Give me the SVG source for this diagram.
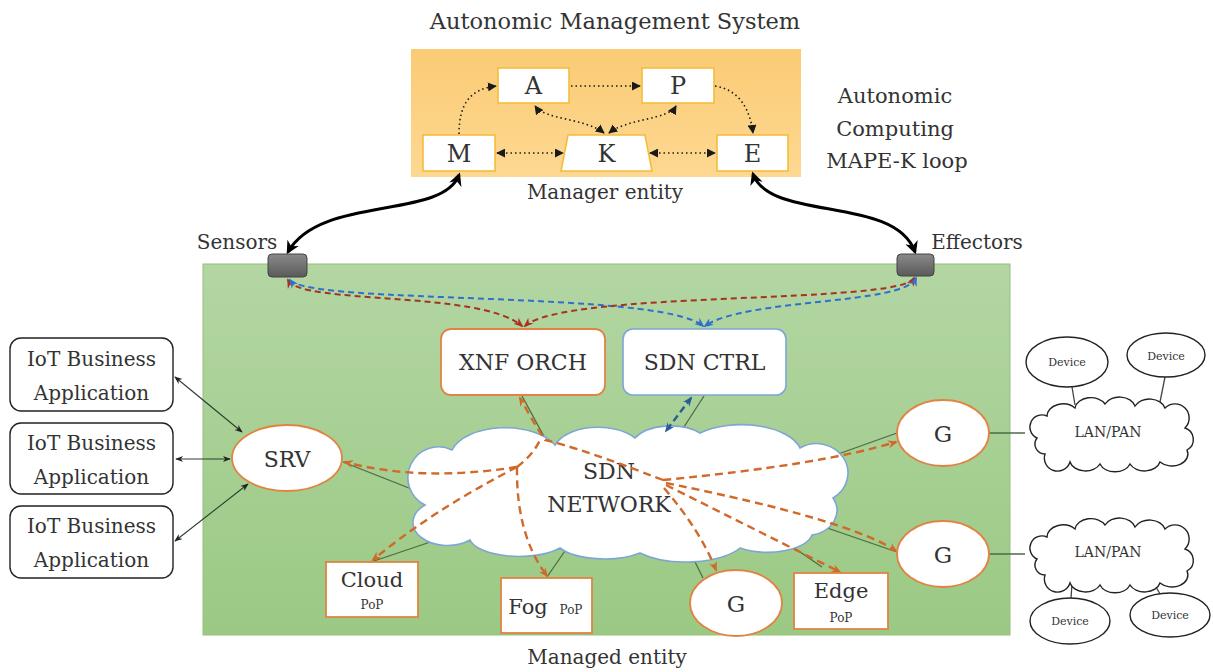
<svg xmlns="http://www.w3.org/2000/svg" width="1213" height="672" viewBox="0 0 1213 672" font-family="'DejaVu Serif', 'Liberation Serif', serif">
<defs>
<linearGradient id="gOr" x1="0" y1="0" x2="0" y2="1"><stop offset="0" stop-color="#fbcb74"/><stop offset="1" stop-color="#fdd892"/></linearGradient>
<linearGradient id="gGr" x1="0" y1="0" x2="0" y2="1"><stop offset="0" stop-color="#b3d6a3"/><stop offset="1" stop-color="#9bc984"/></linearGradient>
<linearGradient id="gSen" x1="0" y1="0" x2="0" y2="1"><stop offset="0" stop-color="#8a8a8a"/><stop offset="1" stop-color="#5a5a5a"/></linearGradient>
<marker id="mDot" viewBox="0 0 10 10" refX="9" refY="5" markerWidth="9" markerHeight="9" markerUnits="userSpaceOnUse" orient="auto-start-reverse"><path d="M0,0 L10,5 L0,10 Z" fill="#1a1a1a"/></marker>
<marker id="mBig" viewBox="0 0 10 10" refX="8" refY="5" markerWidth="13" markerHeight="13" markerUnits="userSpaceOnUse" orient="auto-start-reverse"><path d="M0,0 L10,5 L0,10 L3,5 Z" fill="#000"/></marker>
<marker id="mThin" viewBox="0 0 10 10" refX="9" refY="5" markerWidth="8" markerHeight="8" markerUnits="userSpaceOnUse" orient="auto-start-reverse"><path d="M0,1 L10,5 L0,9 L3,5 Z" fill="#222"/></marker>
<marker id="mOr" viewBox="0 0 10 10" refX="8" refY="5" markerWidth="10" markerHeight="10" markerUnits="userSpaceOnUse" orient="auto-start-reverse"><path d="M0,1 L10,5 L0,9 L3,5 Z" fill="#d0692a"/></marker>
<marker id="mRed" viewBox="0 0 10 10" refX="8" refY="5" markerWidth="10" markerHeight="10" markerUnits="userSpaceOnUse" orient="auto-start-reverse"><path d="M0,1 L10,5 L0,9 L3,5 Z" fill="#a8321f"/></marker>
<marker id="mBlue" viewBox="0 0 10 10" refX="8" refY="5" markerWidth="10" markerHeight="10" markerUnits="userSpaceOnUse" orient="auto-start-reverse"><path d="M0,1 L10,5 L0,9 L3,5 Z" fill="#2f6fcf"/></marker>
<marker id="mDBlue" viewBox="0 0 10 10" refX="8" refY="5" markerWidth="10" markerHeight="10" markerUnits="userSpaceOnUse" orient="auto-start-reverse"><path d="M0,1 L10,5 L0,9 L3,5 Z" fill="#2a5b98"/></marker>
<path id="lanCloud" d="M12 40 A12 12 0 0 1 22 18 A16 12 0 0 1 50 10 A16 12 0 0 1 80 6 A16 12 0 0 1 110 8 A16 12 0 0 1 140 10 A14 14 0 0 1 160 30 A12 12 0 0 1 162 52 A16 12 0 0 1 135 64 A16 12 0 0 1 105 66 A16 12 0 0 1 75 66 A16 12 0 0 1 45 64 A12 12 0 0 1 20 56 A10 10 0 0 1 12 40 Z"/>
</defs>
<style>
text{font-family:'DejaVu Serif','Liberation Serif',serif;fill:#333}
.mk{fill:#fff;stroke:#f3bd3c;stroke-width:1.6}
.lt{font-size:24px;text-anchor:middle}
.dot{fill:none;stroke:#1a1a1a;stroke-width:1.6;stroke-dasharray:1.5 3}
.big{fill:none;stroke:#000;stroke-width:3}
.or{fill:#fff;stroke:#e08443;stroke-width:1.8}
.bl{fill:#fff;stroke:#7ea6d3;stroke-width:1.6}
.blk{fill:#fff;stroke:#222;stroke-width:1.4}
.sol{fill:none;stroke:#4d6b44;stroke-width:1.3}
.od{fill:none;stroke:#d0692a;stroke-width:2.4;stroke-dasharray:8 5}
.rd{fill:none;stroke:#a8321f;stroke-width:2;stroke-dasharray:6 4}
.bd{fill:none;stroke:#2f6fcf;stroke-width:2;stroke-dasharray:6 4}
.thin{fill:none;stroke:#2c3e2c;stroke-width:1.1}
.dev{font-size:11px;text-anchor:middle}
</style>

<text x="615" y="29" font-size="22.5" text-anchor="middle">Autonomic Management System</text>
<text x="895" y="103" font-size="21" text-anchor="middle">Autonomic</text>
<text x="895" y="136" font-size="21" text-anchor="middle">Computing</text>
<text x="897" y="168" font-size="21" text-anchor="middle">MAPE-K loop</text>
<text x="605" y="199" font-size="20" text-anchor="middle">Manager entity</text>
<text x="237" y="249" font-size="20" text-anchor="middle">Sensors</text>
<text x="977" y="249" font-size="20" text-anchor="middle">Effectors</text>
<text x="607" y="664" font-size="20" text-anchor="middle">Managed entity</text>

<rect id="manager" x="411" y="49" width="390" height="128" fill="url(#gOr)"/>
<g id="node-A"><rect class="mk" x="498" y="68" width="71" height="35"/><text class="lt" x="533.5" y="94">A</text></g>
<g id="node-P"><rect class="mk" x="642" y="68" width="72" height="35"/><text class="lt" x="678" y="94">P</text></g>
<g id="node-M"><rect class="mk" x="423" y="135" width="72" height="36"/><text class="lt" x="459" y="162">M</text></g>
<g id="node-K"><path class="mk" d="M568 135 L645 135 L652 171 L561 171 Z"/><text class="lt" x="606.5" y="162">K</text></g>
<g id="node-E"><rect class="mk" x="717" y="135" width="71" height="36"/><text class="lt" x="752.5" y="162">E</text></g>

<rect id="managed" x="203" y="264" width="807" height="371" fill="url(#gGr)" stroke="#93c07f" stroke-width="1"/>

<g id="connectors">
  <path class="dot" d="M459 134 C459 104 470 89 496 86" marker-end="url(#mDot)"/>
  <path class="dot" d="M571 86 L640 86" marker-end="url(#mDot)"/>
  <path class="dot" d="M715 86 C740 90 750 110 753 133" marker-end="url(#mDot)"/>
  <path class="dot" d="M604 133 C585 118 545 120 535 106" marker-start="url(#mDot)" marker-end="url(#mDot)"/>
  <path class="dot" d="M609 133 C628 118 668 120 676 106" marker-start="url(#mDot)" marker-end="url(#mDot)"/>
  <path class="dot" d="M497 153 L563 153" marker-start="url(#mDot)" marker-end="url(#mDot)"/>
  <path class="dot" d="M650 153 L715 153" marker-start="url(#mDot)" marker-end="url(#mDot)"/>
  <path class="big" d="M459 175 C442 220 320 195 288 252" marker-start="url(#mBig)" marker-end="url(#mBig)"/>
  <path class="big" d="M753 174 C770 222 895 195 915 252" marker-start="url(#mBig)" marker-end="url(#mBig)"/>
  <path class="rd" d="M288 280 C300 305 480 290 522 326" marker-start="url(#mRed)" marker-end="url(#mRed)"/>
  <path class="bd" d="M290 280 C310 305 660 290 703 326" marker-start="url(#mBlue)" marker-end="url(#mBlue)"/>
  <path class="rd" d="M914 278 C900 305 565 290 525 326" marker-start="url(#mRed)" marker-end="url(#mRed)"/>
  <path class="bd" d="M916 278 C905 305 745 298 705 326" marker-start="url(#mBlue)" marker-end="url(#mBlue)"/>
  <path class="sol" d="M522 396 L547 442"/>
  <path class="sol" d="M704 396 L682 430"/>
  <path class="sol" d="M343 462 L414 490"/>
  <path class="sol" d="M371 562 L466 530"/>
  <path class="sol" d="M547 577 L569 545"/>
  <path class="sol" d="M703 578 L685 542"/>
  <path class="sol" d="M768 530 L822 567"/>
  <path class="sol" d="M804 520 L897 552"/>
  <path class="sol" d="M827 458 L897 433"/>
  <path class="sol" d="M988 433 L1025 433"/>
  <path class="sol" d="M988 554 L1025 554"/>
  <path class="sol" style="stroke:#444" d="M1072 387 L1075 405"/>
  <path class="sol" style="stroke:#444" d="M1165 377 L1160 402"/>
  <path class="sol" style="stroke:#444" d="M1072 584 L1071 598"/>
  <path class="sol" style="stroke:#444" d="M1152 580 L1160 594"/>
  <path class="thin" d="M175 377 L242 432" marker-start="url(#mThin)" marker-end="url(#mThin)"/>
  <path class="thin" d="M176 459 L230 459" marker-start="url(#mThin)" marker-end="url(#mThin)"/>
  <path class="thin" d="M175 541 L248 484" marker-start="url(#mThin)" marker-end="url(#mThin)"/>
</g>

<g id="node-sdn">
  <path fill="#fff" stroke="#7ea6d3" stroke-width="1.6" d="M425 505 A30 30 0 0 1 452 450 A55 30 0 0 1 555 445 A45 25 0 0 1 635 438 A40 22 0 0 1 700 433 A60 30 0 0 1 800 448 A30 28 0 0 1 833 498 A30 25 0 0 1 812 535 A45 20 0 0 1 740 548 A60 25 0 0 1 640 553 A50 20 0 0 1 560 548 A50 20 0 0 1 470 540 A30 20 0 0 1 425 505 Z"/>
  <text x="609" y="479" font-size="22" text-anchor="middle">SDN</text>
  <text x="609" y="512" font-size="22" text-anchor="middle">NETWORK</text>
</g>

<g id="connectors-dashed">
  <path class="od" d="M517 467 Q420 482 345 462" marker-end="url(#mOr)"/>
  <path class="od" d="M663 480 Q580 448 545 440 Q535 425 520 398" marker-end="url(#mOr)"/>
  <path class="od" d="M517 467 Q533 455 540 440"/>
  <path class="od" d="M517 467 Q430 512 373 560" marker-end="url(#mOr)"/>
  <path class="od" d="M517 467 Q516 535 547 576" marker-end="url(#mOr)"/>
  <path class="od" d="M663 480 Q820 465 896 442" marker-end="url(#mOr)"/>
  <path class="od" d="M666 483 Q850 520 896 551" marker-end="url(#mOr)"/>
  <path class="od" d="M666 485 L840 572" marker-end="url(#mOr)"/>
  <path class="od" d="M664 488 Q700 530 716 570" marker-end="url(#mOr)"/>
  <path fill="none" stroke="#2a5b98" stroke-width="2.4" stroke-dasharray="7 4" d="M691 398 L666 431" marker-start="url(#mDBlue)" marker-end="url(#mDBlue)"/>
</g>

<g id="node-sensor"><rect x="268" y="254" width="39" height="23" rx="4" fill="url(#gSen)" stroke="#444" stroke-width="1"/></g>
<g id="node-effector"><rect x="897" y="254" width="37" height="22" rx="4" fill="url(#gSen)" stroke="#444" stroke-width="1"/></g>

<g id="node-xnf"><rect class="or" x="441" y="329" width="164" height="66" rx="10"/><text x="523" y="370" font-size="22" text-anchor="middle">XNF ORCH</text></g>
<g id="node-sdnctrl"><rect class="bl" x="623" y="329" width="163" height="66" rx="10"/><text x="704.5" y="370" font-size="22" text-anchor="middle">SDN CTRL</text></g>
<g id="node-srv"><ellipse class="or" cx="287" cy="458" rx="55" ry="33"/><text x="287" y="467" font-size="22" text-anchor="middle">SRV</text></g>
<g id="node-g1"><ellipse class="or" cx="943" cy="433" rx="46" ry="33"/><text x="943" y="442" font-size="23" text-anchor="middle">G</text></g>
<g id="node-g2"><ellipse class="or" cx="943" cy="554" rx="46" ry="33"/><text x="943" y="563" font-size="23" text-anchor="middle">G</text></g>
<g id="node-g3"><ellipse class="or" cx="736" cy="603" rx="46" ry="33"/><text x="736" y="612" font-size="23" text-anchor="middle">G</text></g>
<g id="node-cloudpop"><rect class="or" x="326" y="562" width="92" height="55"/><text x="372" y="587" font-size="21" text-anchor="middle">Cloud</text><text x="372" y="609" font-size="12" text-anchor="middle">PoP</text></g>
<g id="node-fogpop"><rect class="or" x="501" y="578" width="91" height="55"/><text x="528" y="614" font-size="21" text-anchor="middle">Fog</text><text x="571" y="614" font-size="12" text-anchor="middle">PoP</text></g>
<g id="node-edgepop"><rect class="or" x="794" y="573" width="94" height="56"/><text x="841" y="598" font-size="21" text-anchor="middle">Edge</text><text x="841" y="622" font-size="12" text-anchor="middle">PoP</text></g>

<g id="node-iot1"><rect class="blk" x="10" y="338" width="163" height="73" rx="11"/><text x="91.5" y="366" font-size="20" text-anchor="middle">IoT Business</text><text x="91.5" y="400" font-size="20" text-anchor="middle">Application</text></g>
<g id="node-iot2"><rect class="blk" x="10" y="423" width="163" height="71" rx="11"/><text x="91.5" y="450" font-size="20" text-anchor="middle">IoT Business</text><text x="91.5" y="484" font-size="20" text-anchor="middle">Application</text></g>
<g id="node-iot3"><rect class="blk" x="10" y="506" width="163" height="72" rx="11"/><text x="91.5" y="533" font-size="20" text-anchor="middle">IoT Business</text><text x="91.5" y="567" font-size="20" text-anchor="middle">Application</text></g>

<g id="node-lan1"><use href="#lanCloud" transform="translate(1025 398)" fill="#fff" stroke="#222" stroke-width="1.4"/><text x="1108" y="437" font-size="14" text-anchor="middle">LAN/PAN</text></g>
<g id="node-lan2"><use href="#lanCloud" transform="translate(1025 519)" fill="#fff" stroke="#222" stroke-width="1.4"/><text x="1108" y="557" font-size="14" text-anchor="middle">LAN/PAN</text></g>
<g id="node-dev1"><ellipse class="blk" cx="1067" cy="362" rx="41" ry="25"/><text class="dev" x="1067" y="366">Device</text></g>
<g id="node-dev2"><ellipse class="blk" cx="1166" cy="355" rx="39" ry="22"/><text class="dev" x="1166" y="360">Device</text></g>
<g id="node-dev3"><ellipse class="blk" cx="1070" cy="621" rx="40" ry="23"/><text class="dev" x="1070" y="625">Device</text></g>
<g id="node-dev4"><ellipse class="blk" cx="1170" cy="615" rx="40" ry="22"/><text class="dev" x="1170" y="619">Device</text></g>
</svg>
